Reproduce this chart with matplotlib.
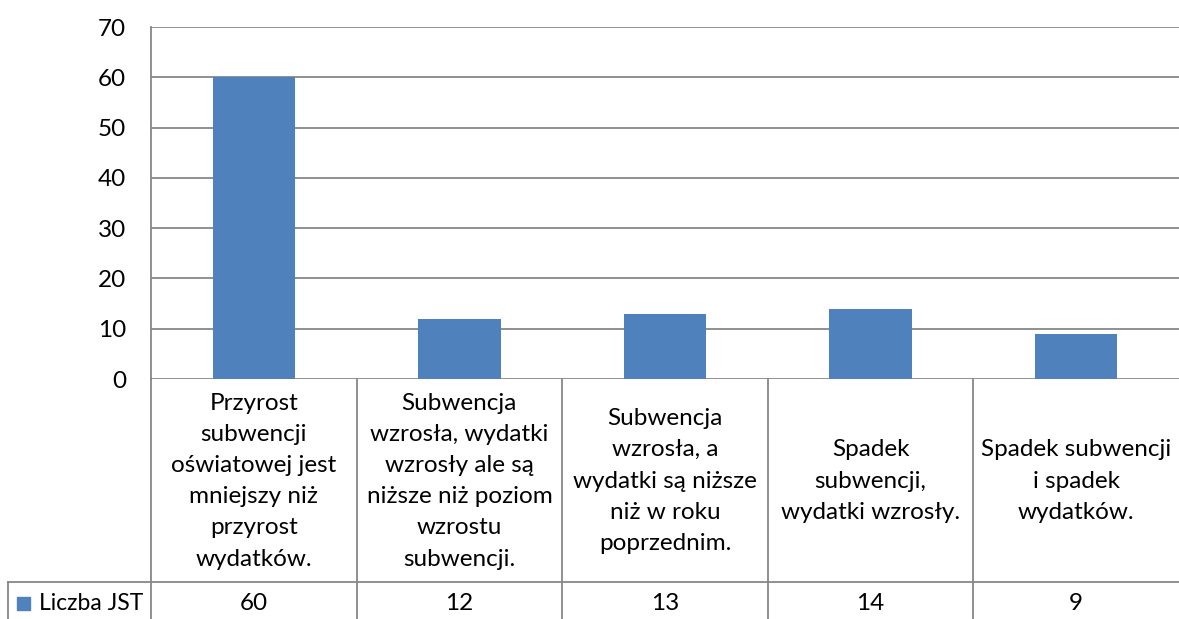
import matplotlib
matplotlib.use("Agg")
import matplotlib.pyplot as plt
from matplotlib.patches import Rectangle

plt.rcParams['font.family'] = ['Lato', 'DejaVu Sans']

categories = [
    "Przyrost\nsubwencji\noświatowej jest\nmniejszy niż\nprzyrost\nwydatków.",
    "Subwencja\nwzrosła, wydatki\nwzrosły ale są\nniższe niż poziom\nwzrostu\nsubwencji.",
    "Subwencja\nwzrosła, a\nwydatki są niższe\nniż w roku\npoprzednim.",
    "Spadek\nsubwencji,\nwydatki wzrosły.",
    "Spadek subwencji\ni spadek\nwydatków.",
]
values = [60, 12, 13, 14, 9]
series_name = "Liczba JST"
yticks = [0, 10, 20, 30, 40, 50, 60, 70]

bar_color = "#4F81BD"
grid_color = "#878787"
fs = 17.5

W, H = 1179, 619
fig = plt.figure(figsize=(W / 100, H / 100), dpi=100)
left = 151 / W
bottom = 1 - 379 / H
top = 1 - 27 / H
ax = fig.add_axes([left, bottom, 1 - left, top - bottom])

x = list(range(len(values)))
ax.bar(x, values, width=0.4, color=bar_color, zorder=3)
ax.set_xlim(-0.5, len(values) - 0.5)
ax.set_ylim(0, 70)
ax.set_yticks(yticks)
ax.set_yticklabels([str(t) for t in yticks], fontsize=fs)
ax.tick_params(axis='y', length=0, pad=18)
ax.tick_params(axis='x', length=0, labelbottom=False)
ax.grid(axis='y', color=grid_color, linewidth=1.3, zorder=0)
for s in ['top', 'right', 'bottom']:
    ax.spines[s].set_visible(False)
ax.spines['left'].set_color(grid_color)
ax.spines['left'].set_linewidth(1.3)

# data table below the axis
ax_h_px = 379 - 27
row_split = -(582 - 379) / ax_h_px
table_bottom = -(619 - 379) / ax_h_px - 0.05
trans = ax.get_xaxis_transform()
lkw = dict(color=grid_color, linewidth=1.3, clip_on=False, transform=trans)

# vertical lines
ax.plot([-0.5, -0.5], [0, table_bottom], **lkw)
for i in range(1, len(values)):
    ax.plot([i - 0.5, i - 0.5], [0, table_bottom], **lkw)
# horizontal line at row split, extending into legend cell
cat_w = (W - 151) / len(values)
x_leg_left = -0.5 - (151 - 8) / cat_w
ax.plot([x_leg_left, len(values) - 0.5], [row_split, row_split], **lkw)
ax.plot([x_leg_left, x_leg_left], [row_split, table_bottom], **lkw)

header_center = -(481 - 379) / ax_h_px
data_center = -(603 - 379) / ax_h_px
for i, (c, v) in enumerate(zip(categories, values)):
    ax.text(i, header_center, c, transform=trans, ha='center', va='center',
            fontsize=fs, linespacing=1.6, clip_on=False, color='#000000')
    ax.text(i, data_center, str(v), transform=trans, ha='center', va='center',
            fontsize=fs, clip_on=False, color='#000000')

# legend key inside table
sq_x = -0.5 - (151 - 17) / cat_w
sq_w = 13 / cat_w
sq_h = 13 / ax_h_px
ax.add_patch(Rectangle((sq_x, data_center - sq_h / 2), sq_w, sq_h,
                       transform=trans, color=bar_color, clip_on=False))
ax.text(-0.5 - (151 - 39) / cat_w, data_center, series_name, transform=trans,
        ha='left', va='center', fontsize=16.5, clip_on=False, color='#000000')

fig.savefig("out.png", dpi=100)
